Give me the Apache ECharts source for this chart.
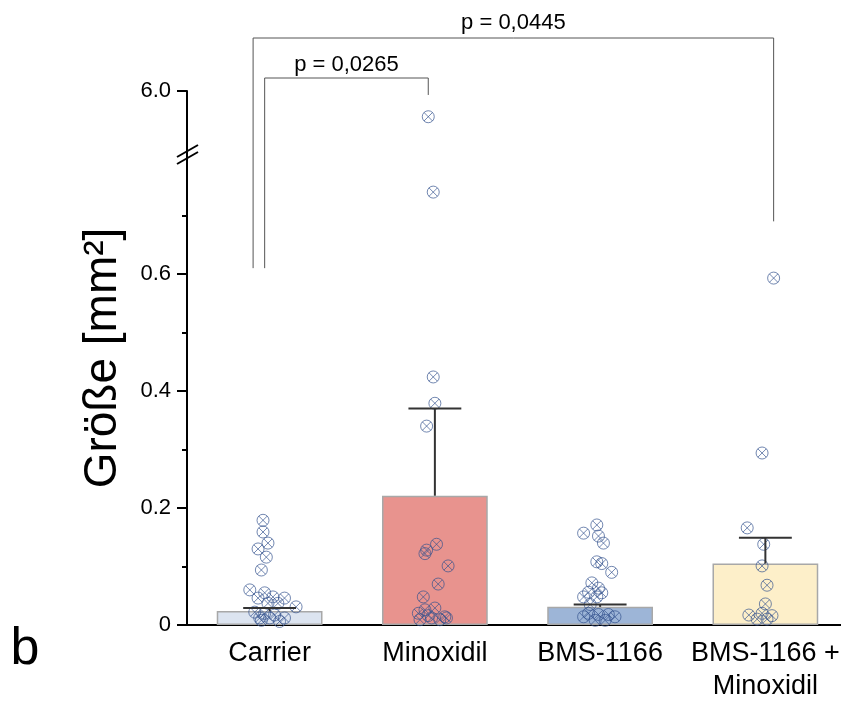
<!DOCTYPE html>
<html>
<head>
<meta charset="utf-8">
<script src="https://cdn.jsdelivr.net/npm/echarts@6/dist/echarts.min.js"></script>
<style>
  html, body { margin: 0; padding: 0; background: #fff; }
  #chart { width: 841px; height: 704px; }
</style>
</head>
<body>
<div id="chart"></div>
<script>
  // Gruppen und Mittelwerte (Balken) mit SEM (Fehlerbalken nach oben)
  var categories = ['Carrier', 'Minoxidil', 'BMS-1166', 'BMS-1166 +\nMinoxidil'];
  var means = [0.024, 0.221, 0.031, 0.105];
  var sems = [0.005, 0.149, 0.004, 0.044];
  var barColors = ['#dce4f0', '#e8938e', '#9db5d7', '#fdefc9'];

  // Einzelwerte je Gruppe: [seitlicher Versatz, Wert]
  var carrierPts = [[-0.04, 0.179], [-0.04, 0.159], [-0.01, 0.140], [-0.07, 0.130], [-0.02, 0.116],
    [-0.05, 0.094], [-0.12, 0.060], [-0.03, 0.055], [-0.07, 0.046], [0.02, 0.048], [0.09, 0.046],
    [0.16, 0.031], [-0.01, 0.037], [0.05, 0.037], [-0.09, 0.022], [-0.03, 0.020], [0.03, 0.017],
    [0.09, 0.012], [-0.06, 0.012], [0.00, 0.012], [-0.05, 0.008], [0.06, 0.006]];
  var minoxPts = [[-0.01, 0.740], [-0.01, 0.424], [0.00, 0.379], [-0.05, 0.340], [0.01, 0.138],
    [-0.05, 0.128], [-0.06, 0.122], [0.08, 0.101], [0.02, 0.070], [-0.07, 0.048], [-0.06, 0.026],
    [0.00, 0.029], [-0.10, 0.020], [0.06, 0.014], [-0.02, 0.012], [0.03, 0.009], [0.07, 0.012],
    [-0.09, 0.009], [-0.04, 0.016]];
  var minoxHighPts = [[-0.04, 5.61]];
  var bmsPts = [[-0.02, 0.171], [-0.10, 0.157], [-0.01, 0.152], [0.02, 0.140], [-0.02, 0.108],
    [0.01, 0.105], [0.07, 0.090], [-0.05, 0.072], [-0.01, 0.063], [-0.07, 0.056], [0.01, 0.055],
    [-0.10, 0.048], [-0.02, 0.048], [-0.06, 0.035], [-0.07, 0.020], [-0.01, 0.018], [0.05, 0.018],
    [0.09, 0.014], [-0.10, 0.014], [-0.03, 0.008], [0.03, 0.008]];
  var comboPts = [[0.05, 0.593], [-0.02, 0.294], [-0.11, 0.166], [-0.01, 0.138], [-0.02, 0.101],
    [0.01, 0.068], [0.00, 0.036], [-0.10, 0.017], [-0.02, 0.020], [0.04, 0.016], [-0.05, 0.010],
    [0.01, 0.010]];

  var pValues = ['p = 0,0265', 'p = 0,0445'];

  var FONT = '"Liberation Sans", Arial, sans-serif';
  var markerPath = 'path://M0,-10A10,10,0,1,1,0,10A10,10,0,1,1,0,-10ZM-7.07,-7.07L7.07,7.07M7.07,-7.07L-7.07,7.07';

  function place(groupIdx, pts) {
    return pts.map(function (p) { return [groupIdx + p[0], p[1]]; });
  }
  var lowPoints = [].concat(place(0, carrierPts), place(1, minoxPts), place(2, bmsPts), place(3, comboPts));
  var highPoints = place(1, minoxHighPts);

  var chart = echarts.init(document.getElementById('chart'));

  var pointStyle = {
    color: 'rgba(0,0,0,0)',
    borderColor: 'rgba(50,80,140,0.85)',
    borderWidth: 1
  };

  var option = {
    animation: false,
    backgroundColor: '#fff',
    textStyle: { fontFamily: FONT },
    grid: [
      { left: 187, width: 661, top: 91, height: 66, outerBoundsMode: 'none', containLabel: false },
      { left: 187, width: 661, top: 157, height: 468, outerBoundsMode: 'none', containLabel: false }
    ],
    xAxis: [
      { gridIndex: 0, type: 'value', min: -0.5, max: 3.5, show: false },
      {
        gridIndex: 1, type: 'category', data: categories,
        axisLine: { lineStyle: { color: '#000', width: 2 } },
        axisTick: { alignWithLabel: true, length: 5, lineStyle: { color: '#000', width: 2 } },
        axisLabel: { interval: 0, hideOverlap: false, color: '#000', fontSize: 27, fontFamily: FONT, margin: 12, lineHeight: 33 }
      },
      { gridIndex: 1, type: 'value', min: -0.5, max: 3.5, show: false }
    ],
    yAxis: [
      {
        gridIndex: 0, type: 'value', min: 5, max: 6,
        axisLine: { show: true, onZero: false, lineStyle: { color: '#000', width: 2 } },
        axisTick: { show: true, length: 10, customValues: [6], lineStyle: { color: '#000', width: 2 } },
        axisLabel: {
          customValues: [6], color: '#000', fontSize: 22, fontFamily: FONT, margin: 16,
          formatter: function (v) { return v.toFixed(1); }
        },
        splitLine: { show: false }
      },
      {
        gridIndex: 1, type: 'value', min: 0, max: 0.8, interval: 0.2,
        axisLine: { show: true, onZero: false, lineStyle: { color: '#000', width: 2 } },
        axisTick: { show: true, length: 10, customValues: [0, 0.2, 0.4, 0.6], lineStyle: { color: '#000', width: 2 } },
        minorTick: { show: true, splitNumber: 2, length: 5, lineStyle: { color: '#000', width: 2 } },
        axisLabel: {
          customValues: [0, 0.2, 0.4, 0.6], color: '#000', fontSize: 22, fontFamily: FONT, margin: 16,
          formatter: function (v) { return v === 0 ? '0' : v.toFixed(1); }
        },
        splitLine: { show: false }
      }
    ],
    series: [
      {
        type: 'bar', xAxisIndex: 1, yAxisIndex: 1, barWidth: '64%', z: 1,
        data: means.map(function (m, i) {
          return { value: m, itemStyle: { color: barColors[i], borderColor: '#a8a8a8', borderWidth: 1.5 } };
        })
      },
      {
        type: 'scatter', xAxisIndex: 2, yAxisIndex: 1, z: 3,
        symbol: markerPath, symbolSize: 12, itemStyle: pointStyle,
        data: lowPoints
      },
      {
        type: 'scatter', xAxisIndex: 0, yAxisIndex: 0, z: 3,
        symbol: markerPath, symbolSize: 12, itemStyle: pointStyle,
        data: highPoints
      },
      {
        type: 'custom', xAxisIndex: 2, yAxisIndex: 1, z: 4,
        data: means.map(function (m, i) { return [i, m, sems[i]]; }),
        renderItem: function (params, api) {
          var base = api.coord([api.value(0), api.value(1)]);
          var top = api.coord([api.value(0), api.value(1) + api.value(2)]);
          var half = api.size([1, 0])[0] * 0.16;
          var st = { stroke: '#333', lineWidth: 2 };
          return {
            type: 'group', children: [
              { type: 'line', shape: { x1: base[0], y1: base[1], x2: top[0], y2: top[1] }, style: st },
              { type: 'line', shape: { x1: top[0] - half, y1: top[1], x2: top[0] + half, y2: top[1] }, style: st }
            ]
          };
        }
      }
    ]
  };
  chart.setOption(option);

  // Signifikanzklammern, Achsenbruch und Beschriftungen
  function px(x) { return chart.convertToPixel({ xAxisIndex: 2 }, x); }
  function pyLow(v) { return chart.convertToPixel({ yAxisIndex: 1 }, v); }
  function pyHigh(v) { return chart.convertToPixel({ yAxisIndex: 0 }, v); }
  var axisX = px(-0.5);
  var brk = pyLow(0.8) - 3;
  var bracketStyle = { stroke: '#555', lineWidth: 1, fill: null };

  chart.setOption({
    graphic: [
      { type: 'polyline', shape: { points: [[px(-0.03), pyLow(0.61)], [px(-0.03), 78], [px(0.96), 78], [px(0.96), pyHigh(5.94)]] }, style: bracketStyle },
      { type: 'polyline', shape: { points: [[px(-0.1), pyLow(0.61)], [px(-0.1), 38], [px(3.05), 38], [px(3.05), pyLow(0.69)]] }, style: bracketStyle },
      { type: 'text', x: (px(-0.03) + px(0.96)) / 2, y: 65, style: { text: pValues[0], font: '22px ' + FONT, fill: '#000', align: 'center', verticalAlign: 'middle' } },
      { type: 'text', x: (px(-0.1) + px(3.05)) / 2, y: 23, style: { text: pValues[1], font: '22px ' + FONT, fill: '#000', align: 'center', verticalAlign: 'middle' } },
      { type: 'line', shape: { x1: axisX - 10, y1: brk + 3, x2: axisX + 11, y2: brk - 9 }, style: { stroke: '#000', lineWidth: 2 } },
      { type: 'line', shape: { x1: axisX - 10, y1: brk + 10, x2: axisX + 11, y2: brk - 2 }, style: { stroke: '#000', lineWidth: 2 } },
      { type: 'text', x: 103, y: 358, rotation: Math.PI / 2, style: { text: 'Größe [mm²]', font: '46px ' + FONT, fill: '#000', align: 'center', verticalAlign: 'middle' } },
      { type: 'text', x: 25, y: 650, style: { text: 'b', font: '52px ' + FONT, fill: '#000', align: 'center', verticalAlign: 'middle' } }
    ]
  });
</script>
</body>
</html>
